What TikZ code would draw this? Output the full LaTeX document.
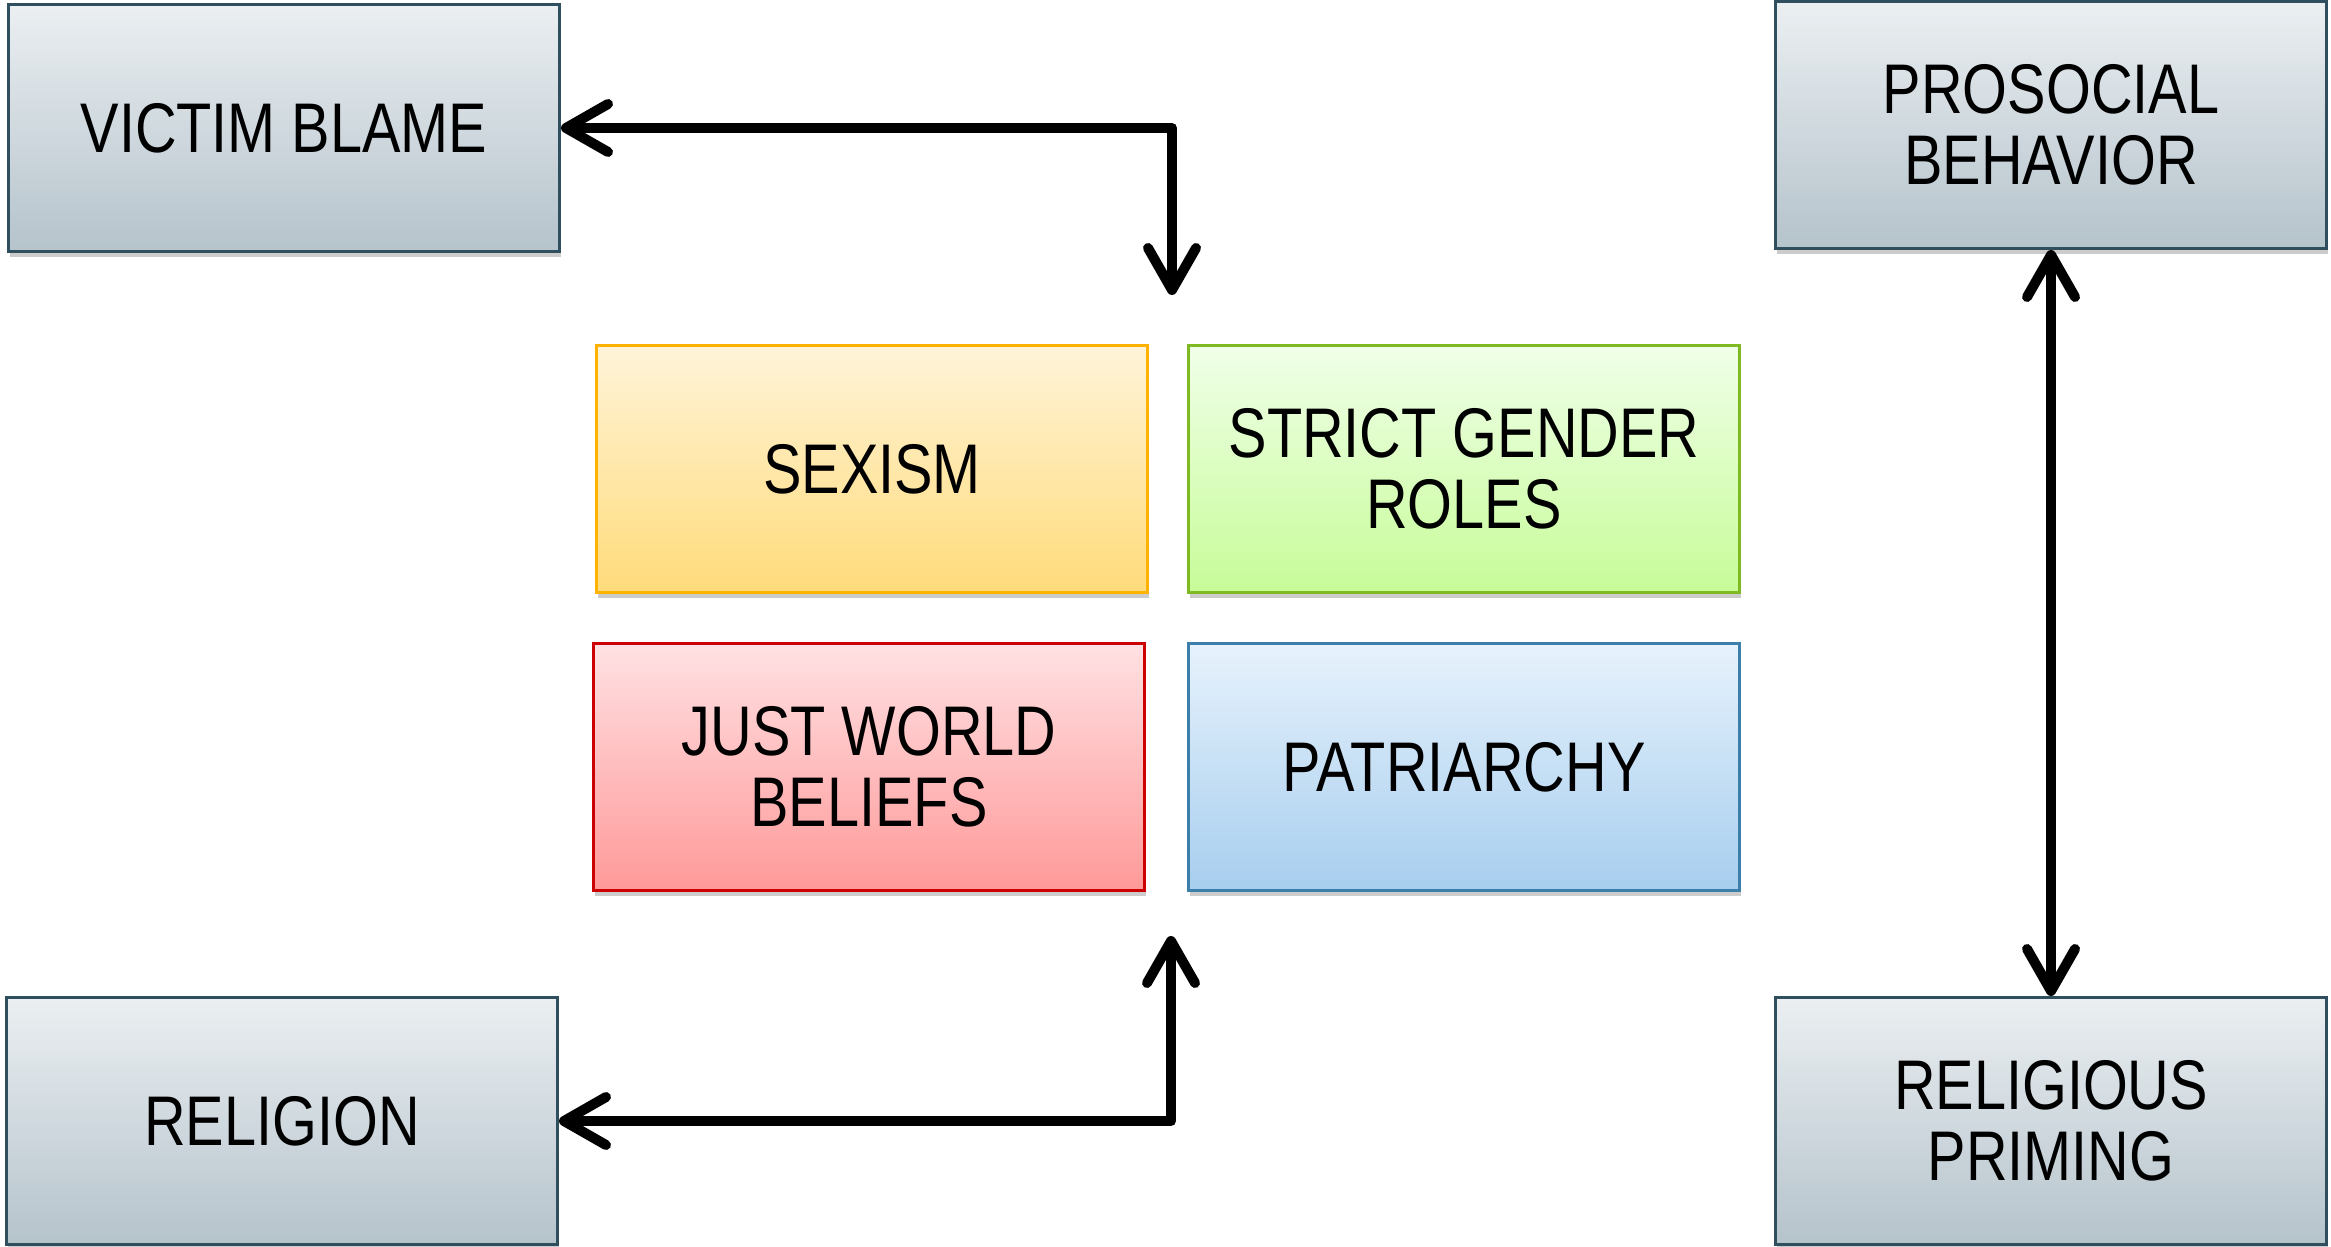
\documentclass[tikz,border=0pt]{standalone}
\usepackage{fontspec}
\setmainfont[FakeStretch=0.82]{Liberation Sans}
\usepackage{tikz}
\usetikzlibrary{positioning, arrows.meta, shadows}
\definecolor{grayline}{HTML}{2F4F5F}
\definecolor{graytop}{HTML}{EBEFF2}
\definecolor{graybot}{HTML}{B5C3CB}
\definecolor{sexline}{HTML}{FFB300}
\definecolor{sextop}{HTML}{FFF4D9}
\definecolor{sexbot}{HTML}{FFDB7A}
\definecolor{roleline}{HTML}{7FBA22}
\definecolor{roletop}{HTML}{F0FFE9}
\definecolor{rolebot}{HTML}{C7FC98}
\definecolor{justline}{HTML}{CC0000}
\definecolor{justtop}{HTML}{FFE1E3}
\definecolor{justbot}{HTML}{FF9999}
\definecolor{patline}{HTML}{3B7FAA}
\definecolor{pattop}{HTML}{E7F2FC}
\definecolor{patbot}{HTML}{A7CEEE}
\tikzset{
 box/.style n args={3}{draw=#1, top color=#2, bottom color=#3, shape=rectangle, line width=0.3mm,
    minimum width=55.1mm, minimum height=24.7mm, align=center, inner sep=2pt,
    font=\fontsize{20}{20.2}\selectfont,
    drop shadow={shadow xshift=0.1mm, shadow yshift=-0.6mm, fill=black, opacity=0.2}}
}

\begin{document}
\begin{tikzpicture}[x=0.1mm, y=-0.1mm]
\tikzstyle{gray}=[box={grayline}{graytop}{graybot}]
\tikzstyle{connect}=[{Straight Barb[length=4.2mm, width=4.8mm, round]}-{Straight Barb[length=4.2mm, width=4.8mm, round]}, line width=1mm, line join=round]
\useasboundingbox (0,0) rectangle (2331,1247);
% 1. Nodes
%%%%%%%%%%
\node[gray] (victim) at (284,128) {VICTIM BLAME};
\node[gray] (prosocial) at (2051,125) {PROSOCIAL\\BEHAVIOR};
\node[gray] (religion) at (282,1121) {RELIGION};
\node[gray] (priming) at (2051,1121) {RELIGIOUS\\PRIMING};

\node[box={sexline}{sextop}{sexbot}] (sexism) at (872,469) {SEXISM};
\node[box={roleline}{roletop}{rolebot}] (roles) [right=3.8mm of sexism] {STRICT GENDER\\ROLES};
\node[box={justline}{justtop}{justbot}] (justworld) [below=4.8mm of sexism, xshift=-0.3mm] {JUST WORLD\\BELIEFS};
\node[box={patline}{pattop}{patbot}] (patriarchy) [below=4.8mm of roles] {PATRIARCHY};

\coordinate (toptip) at (1172,295);
\coordinate (bottip) at (1171,936);
% 2. Arrows
%%%%%%%%%%%
\draw[connect] (victim.east) -| (toptip);
\draw[connect] (religion.east) -| (bottip);
\path (prosocial) edge [connect] (priming);

\end{tikzpicture}
\end{document}
